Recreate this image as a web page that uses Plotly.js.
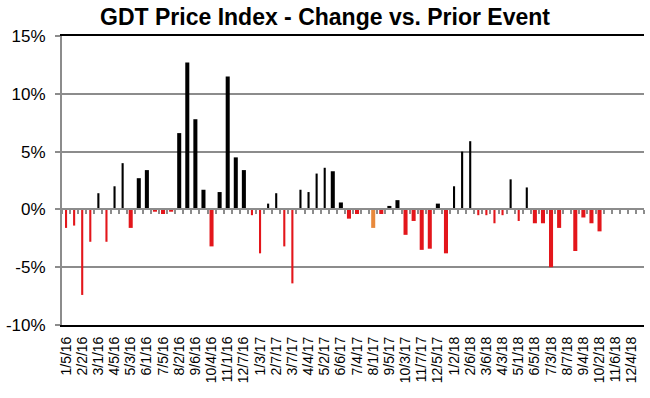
<!DOCTYPE html>
<html>
<head>
<meta charset="utf-8">
<script src="https://cdn.plot.ly/plotly-3.0.1.min.js"></script>
<style>html,body{margin:0;padding:0;background:#fff;}#chart{width:650px;height:398px;}</style>
</head>
<body>
<div id="chart"></div>
<script>
// GDT auction events (twice monthly)
const eventDates = [
  '1/5/16','1/19/16','2/2/16','2/16/16','3/1/16','3/15/16','4/5/16','4/19/16','5/3/16','5/17/16','6/1/16','6/15/16',
  '7/5/16','7/19/16','8/2/16','8/16/16','9/6/16','9/20/16','10/4/16','10/18/16','11/1/16','11/15/16','12/7/16','12/20/16',
  '1/3/17','1/17/17','2/7/17','2/21/17','3/7/17','3/21/17','4/4/17','4/18/17','5/2/17','5/16/17','6/6/17','6/20/17',
  '7/4/17','7/18/17','8/1/17','8/15/17','9/5/17','9/19/17','10/3/17','10/17/17','11/7/17','11/21/17','12/5/17','12/19/17',
  '1/2/18','1/16/18','2/6/18','2/20/18','3/6/18','3/20/18','4/3/18','4/17/18','5/1/18','5/15/18','6/5/18','6/19/18',
  '7/3/18','7/17/18','8/7/18','8/21/18','9/4/18','9/18/18','10/2/18','10/16/18','11/6/18','11/20/18','12/4/18','12/18/18'
];

// % change vs prior event (null = event not yet held)
const pctChange = [
  -1.6, -1.4, -7.4, -2.8, 1.4, -2.8, 2.0, 4.0, -1.6, 2.7, 3.4, -0.2,
  -0.4, -0.2, 6.6, 12.7, 7.8, 1.7, -3.2, 1.5, 11.5, 4.5, 3.4, -0.5,
  -3.8, 0.5, 1.4, -3.2, -6.4, 1.7, 1.5, 3.1, 3.6, 3.3, 0.6, -0.8,
  -0.4, 0.0, -1.6, -0.4, 0.3, 0.8, -2.2, -1.0, -3.5, -3.4, 0.5, -3.8,
  2.0, 5.0, 5.9, -0.5, -0.5, -1.2, -0.5, 2.6, -1.0, 1.9, -1.2, -1.2,
  -5.0, -1.6, 0.0, -3.6, -0.7, -1.2, -1.9, null, null, null, null, null
];

// tick labels shown (first event of each month)
const tickLabels = [
  '1/5/16','2/2/16','3/1/16','4/5/16','5/3/16','6/1/16','7/5/16','8/2/16','9/6/16','10/4/16','11/1/16','12/7/16',
  '1/3/17','2/7/17','3/7/17','4/4/17','5/2/17','6/6/17','7/4/17','8/1/17','9/5/17','10/3/17','11/7/17','12/5/17',
  '1/2/18','2/6/18','3/6/18','4/3/18','5/1/18','6/5/18','7/3/18','8/7/18','9/4/18','10/2/18','11/6/18','12/4/18'
];

// events highlighted in orange
const highlightEvents = ['8/1/17'];
// events drawn with narrow bars
const narrowRanges = [[0, 7], [23, 32], [48, 57]];

const yTicks = [-10, -5, 0, 5, 10, 15];

const barColors = eventDates.map((d, i) => {
  if (highlightEvents.includes(d)) return '#E8893C';
  const v = pctChange[i];
  return (v !== null && v >= 0) ? '#000000' : '#E3161B';
});
const barWidths = eventDates.map((d, i) =>
  narrowRanges.some(r => i >= r[0] && i <= r[1]) ? 0.26 : 0.5);

const grey = '#8c8c8c';

const trace = {
  type: 'bar',
  x: eventDates,
  y: pctChange,
  width: barWidths,
  marker: { color: barColors, line: { width: 0 } },
  hoverinfo: 'x+y'
};

// invisible helper so the category axis at the zero line gets drawn with its ticks
const zeroAxisHelper = {
  type: 'scatter', mode: 'markers',
  x: eventDates, y: eventDates.map(() => 0),
  xaxis: 'x2', yaxis: 'y',
  marker: { size: 1, opacity: 0 },
  hoverinfo: 'skip', showlegend: false
};

const layout = {
  width: 650, height: 398,
  margin: { l: 62, r: 6, t: 36, b: 73 },
  paper_bgcolor: '#ffffff', plot_bgcolor: '#ffffff',
  font: { family: '"Liberation Sans", Arial, sans-serif', color: '#000' },
  showlegend: false,
  title: {
    text: '<b>GDT Price Index - Change vs. Prior Event</b>',
    font: { size: 23, family: '"Liberation Sans", Arial, sans-serif', color: '#000' },
    x: 0.5, xref: 'container', xanchor: 'center',
    y: 1 - 17 / 398, yref: 'container', yanchor: 'middle'
  },
  xaxis: {
    type: 'category',
    categoryorder: 'array', categoryarray: eventDates,
    range: [-0.5, eventDates.length - 0.5],
    tickmode: 'array', tickvals: tickLabels, ticktext: tickLabels,
    tickangle: -90,
    tickfont: { size: 14, color: '#000' },
    ticks: '', showgrid: false, zeroline: false,
    showline: true, linecolor: '#000', linewidth: 2, mirror: true,
    ticklabelstandoff: 4
  },
  xaxis2: {
    overlaying: 'x', anchor: 'free', position: 0.4,
    type: 'category',
    categoryorder: 'array', categoryarray: eventDates,
    range: [-0.5, eventDates.length - 0.5],
    tickmode: 'linear', tick0: 0, dtick: 1,
    tickson: 'boundaries',
    ticks: 'outside', ticklen: 4, tickwidth: 2, tickcolor: grey,
    showticklabels: false, showgrid: false, zeroline: false,
    showline: true, linecolor: grey, linewidth: 2
  },
  yaxis: {
    range: [-10, 15],
    tickmode: 'array', tickvals: yTicks, ticktext: yTicks.map(v => v + '%'),
    tickfont: { size: 17, color: '#000' },
    ticks: 'outside', ticklen: 5, tickwidth: 2, tickcolor: grey,
    showgrid: true, gridcolor: grey, gridwidth: 2,
    zeroline: false,
    showline: true, linecolor: grey, linewidth: 2,
    ticklabelstandoff: 6
  },
  yaxis2: {
    overlaying: 'y', side: 'right', range: [-10, 15],
    showticklabels: false, ticks: '', showgrid: false, zeroline: false,
    showline: true, linecolor: '#000', linewidth: 2
  }
};

Plotly.newPlot('chart', [trace, zeroAxisHelper], layout, { displayModeBar: false, staticPlot: true });
</script>
</body>
</html>
